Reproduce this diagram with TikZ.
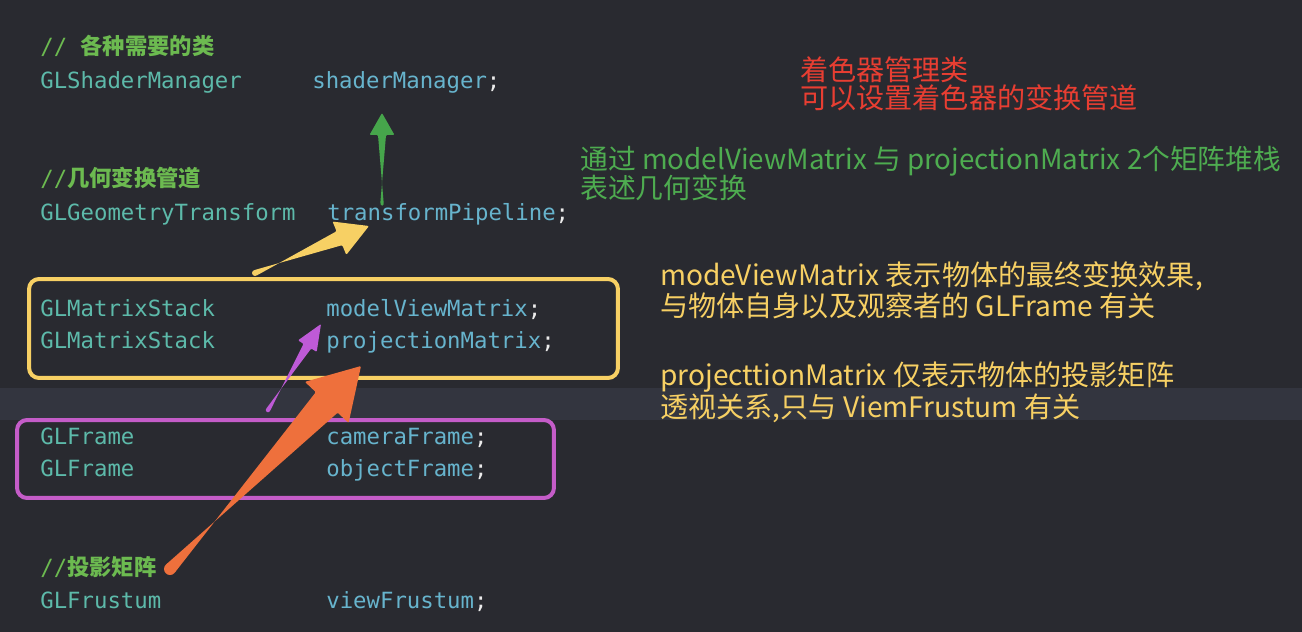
\documentclass[tikz,border=0pt]{standalone}
\usepackage{fontspec}
\setmonofont{DejaVu Sans Mono}
\newfontfamily\cjk{Noto Sans CJK SC}
\usetikzlibrary{calc}
\definecolor{editorbg}{RGB}{41,42,48}
\definecolor{lineband}{RGB}{51,53,63}
\definecolor{typeteal}{RGB}{93,186,170}
\definecolor{varblue}{RGB}{103,180,205}
\definecolor{commentgreen}{RGB}{108,186,80}
\definecolor{noteRed}{RGB}{232,62,50}
\definecolor{noteGreen}{RGB}{78,172,80}
\definecolor{noteYellow}{RGB}{247,208,100}
\definecolor{framePurple}{RGB}{196,92,200}
\definecolor{arrowPurple}{RGB}{190,90,215}
\definecolor{arrowOrange}{RGB}{238,112,60}
\definecolor{arrowGreen}{RGB}{70,165,75}
\tikzset{
  codetype/.style={anchor=base west, inner sep=0pt, text=typeteal, font=\ttfamily\fontsize{12.7}{15}\selectfont},
  codevar/.style={codetype, text=varblue},
  comment/.style={anchor=base west, inner sep=0pt, text=commentgreen, font=\fontsize{12.7}{15}\selectfont},
  note/.style={anchor=base west, inner sep=0pt, font=\cjk\fontsize{16}{16}\selectfont},
  framebox/.style={draw, line width=0.08cm, rounded corners=0.2cm, inner sep=0pt},
}
\newcommand{\semi}{\textcolor{white!85!gray}{;}}
% tapered marker arrow: colour, from, to, tail half width, shaft half width, head half width, head length
\newcommand{\markarrow}[7]{%
  \fill[#1, rounded corners=0.6pt] ($(#2)!#4!90:(#3)$)
    -- ($($(#3)!#7!(#2)$)!#5!-90:(#3)$) -- ($($(#3)!#7!(#2)$)!#6!-90:(#3)$)
    -- (#3)
    -- ($($(#3)!#7!(#2)$)!#6!90:(#3)$) -- ($($(#3)!#7!(#2)$)!#5!90:(#3)$)
    -- ($(#2)!#4!-90:(#3)$) -- cycle;
  \fill[#1] (#2) circle[radius=#4];
}

\begin{document}
\begin{tikzpicture}[x=0.02cm, y=-0.02cm]
  % editor background and current line
  \fill[editorbg] (0,0) rectangle (1302,632);
  \useasboundingbox (0,0) rectangle (1302,632);
  \fill[lineband] (0,388) rectangle (1302,420);

  % comments
  \node[comment] (cmt-classes) at (40,54) {{\ttfamily// }{\cjk\bfseries 各种需要的类}};
  \node[comment] (cmt-pipeline) at (40,186) {{\ttfamily//}{\cjk\bfseries 几何变换管道}};
  \node[comment] (cmt-frustum) at (40,575) {{\ttfamily//}{\cjk\bfseries 投影矩阵}};

  % declarations
  \foreach \nm/\y/\ty/\vx/\vr in {shader/88/GLShaderManager/312/shaderManager,
      pipeline/220/GLGeometryTransform/327/transformPipeline,
      modelview/316/GLMatrixStack/326/modelViewMatrix,
      projection/348/GLMatrixStack/326/projectionMatrix,
      camera/444/GLFrame/326/cameraFrame,
      object/476/GLFrame/326/objectFrame,
      frustum/608/GLFrustum/326/viewFrustum} {
    \node[codetype] (\nm-type) at (40,\y) {\ty};
    \node[codevar] (\nm) at (\vx,\y) {\vr\semi};
  }

  % frames round the matrix stacks and the frames
  \node[framebox, draw=noteYellow, minimum width=11.78cm, minimum height=1.98cm] (stackbox) at (323.5,328.5) {};
  \node[framebox, draw=framePurple, minimum width=10.74cm, minimum height=1.56cm] (framebox) at (285.5,459) {};

  % notes
  \node[note, text=noteRed] (shader-note1) at (800,80) {着色器管理类};
  \node[note, text=noteRed] (shader-note2) at (800,108) {可以设置着色器的变换管道};
  \node[note, text=noteGreen, font=\cjk\fontsize{15.8}{16}\selectfont] (pipeline-note1) at (580,169) {通过 modelViewMatrix 与 projectionMatrix 2个矩阵堆栈};
  \node[note, text=noteGreen, font=\cjk\fontsize{15.8}{16}\selectfont] (pipeline-note2) at (580,198) {表述几何变换};
  \node[note, text=noteYellow] (stack-note1) at (660,285) {modeViewMatrix 表示物体的最终变换效果,};
  \node[note, text=noteYellow] (stack-note2) at (660,316) {与物体自身以及观察者的 GLFrame 有关};
  \node[note, text=noteYellow] (stack-note3) at (660,385) {projecttionMatrix 仅表示物体的投影矩阵};
  \node[note, text=noteYellow] (stack-note4) at (660,417) {透视关系,只与 ViemFrustum 有关};

  % arrow ends
  \coordinate (pipeline-up) at (382,204);
  \coordinate (shader-down) at (382,113);
  \coordinate (stack-up) at (255,273);
  \coordinate (pipeline-left) at (369,226);
  \coordinate (frame-up) at (268,410);
  \coordinate (modelview-left) at (321,324);
  \coordinate (frustum-up) at (170,569);
  \coordinate (projection-down) at (361,366);

  % arrows
  \markarrow{arrowGreen}{pipeline-up}{shader-down}{0.035cm}{0.08cm}{0.25cm}{0.44cm}
  \markarrow{noteYellow}{stack-up}{pipeline-left}{0.06cm}{0.15cm}{0.36cm}{0.64cm}
  \markarrow{arrowPurple}{frame-up}{modelview-left}{0.045cm}{0.09cm}{0.22cm}{0.52cm}
  \markarrow{arrowOrange}{frustum-up}{projection-down}{0.12cm}{0.3cm}{0.6cm}{1.0cm}
\end{tikzpicture}
\end{document}
